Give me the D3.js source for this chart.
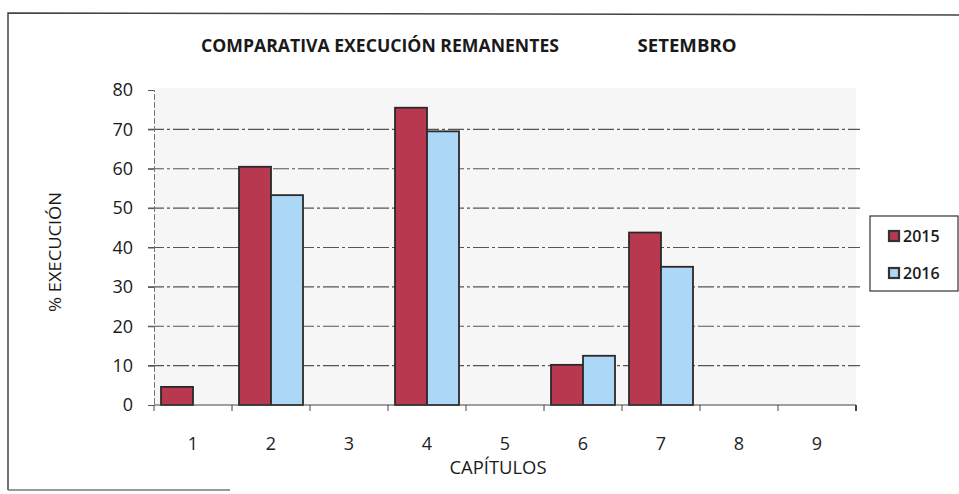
<!DOCTYPE html>
<html>
<head>
<meta charset="utf-8">
<script src="https://cdn.jsdelivr.net/npm/d3@7"></script>
<style>
  body { margin: 0; background: #fff; }
  svg { display: block; font-family: "Open Sans", sans-serif; }
</style>
</head>
<body>
<svg id="chart" width="959" height="494"></svg>
<script>
// data
const capitulos = ['1', '2', '3', '4', '5', '6', '7', '8', '9'];
const series = ['2015', '2016'];
const values2015 = [4.6, 60.5, 0, 75.5, 0, 10.2, 43.8, 0, 0];
const values2016 = [0, 53.3, 0, 69.5, 0, 12.5, 35.1, 0, 0];
const yTicks = [0, 10, 20, 30, 40, 50, 60, 70, 80];

const colors = { '2015': '#b8384f', '2016': '#acd7f6' };

const svg = d3.select('#chart');
const m = { left: 154, right: 856, top: 90, bottom: 405 };

const x0 = d3.scaleBand().domain(capitulos).range([m.left, m.right]);
const x1 = d3.scaleBand().domain(series).range([7, x0.bandwidth() - 7]);
const y = d3.scaleLinear().domain([0, 80]).range([m.bottom, m.top]);

// outer frame (scanned, only partly visible)
svg.append('path')
  .attr('d', 'M8,490 L8,13 L959,15')
  .attr('fill', 'none').attr('stroke', '#444').attr('stroke-width', 1.5);
svg.append('line')
  .attr('x1', 8).attr('x2', 230).attr('y1', 490).attr('y2', 490)
  .attr('stroke', '#777').attr('stroke-width', 1.5);

// plot area
svg.append('rect')
  .attr('x', m.left).attr('y', m.top - 2)
  .attr('width', m.right - m.left).attr('height', m.bottom - m.top + 2)
  .attr('fill', '#f6f6f6');

// grid lines
svg.append('g')
  .selectAll('line')
  .data(yTicks.filter(d => d > 0 && d < 80))
  .join('line')
  .attr('x1', m.left - 6).attr('x2', m.right + 4)
  .attr('y1', d => y(d)).attr('y2', d => y(d))
  .attr('stroke', '#555').attr('stroke-width', 1.2)
  .attr('stroke-dasharray', '16,3,3,3');

// y axis
const yAxis = svg.append('g')
  .attr('transform', `translate(${m.left},0)`)
  .call(d3.axisLeft(y).tickValues(yTicks).tickSize(6).tickPadding(15));
yAxis.select('.domain').attr('stroke', '#777').attr('stroke-dasharray', '6,2');
yAxis.selectAll('.tick line').attr('stroke', '#555');
yAxis.selectAll('text')
  .attr('font-size', 18).attr('fill', '#1a1a1a').attr('font-family', 'Open Sans, sans-serif');

// bars
const groups = svg.append('g')
  .selectAll('g')
  .data(capitulos)
  .join('g')
  .attr('transform', d => `translate(${x0(d)},0)`);

groups.selectAll('rect')
  .data((d, i) => [
    { key: '2015', value: values2015[i] },
    { key: '2016', value: values2016[i] }
  ].filter(e => e.value > 0))
  .join('rect')
  .attr('x', d => x1(d.key))
  .attr('y', d => y(d.value))
  .attr('width', x1.bandwidth())
  .attr('height', d => y(0) - y(d.value))
  .attr('fill', d => colors[d.key])
  .attr('stroke', '#2a2a2a').attr('stroke-width', 1.8);

// x axis
const xTicks = capitulos.map(c => x0(c)).concat([m.right]);
svg.append('line')
  .attr('x1', m.left).attr('x2', m.right)
  .attr('y1', m.bottom).attr('y2', m.bottom)
  .attr('stroke', '#444').attr('stroke-width', 1.2);
svg.append('g')
  .selectAll('line')
  .data(xTicks)
  .join('line')
  .attr('x1', d => d).attr('x2', d => d)
  .attr('y1', m.bottom).attr('y2', m.bottom + 6)
  .attr('stroke', '#444').attr('stroke-width', (d, i) => i === xTicks.length - 1 ? 2 : 1);

svg.append('g')
  .selectAll('text')
  .data(capitulos)
  .join('text')
  .attr('x', d => x0(d) + x0.bandwidth() / 2)
  .attr('y', 450)
  .attr('text-anchor', 'middle')
  .attr('font-size', 18).attr('fill', '#222')
  .text(d => d);

// titles
svg.append('text')
  .attr('x', 380).attr('y', 52)
  .attr('text-anchor', 'middle')
  .attr('font-size', 18).attr('font-weight', 'bold').attr('fill', '#1a1a1a')
  .attr('textLength', 358).attr('lengthAdjust', 'spacingAndGlyphs')
  .text('COMPARATIVA EXECUCIÓN REMANENTES');
svg.append('text')
  .attr('x', 687).attr('y', 52)
  .attr('text-anchor', 'middle')
  .attr('font-size', 18).attr('font-weight', 'bold').attr('fill', '#1a1a1a')
  .attr('textLength', 99).attr('lengthAdjust', 'spacingAndGlyphs')
  .text('SETEMBRO');

svg.append('text')
  .attr('x', 498).attr('y', 474)
  .attr('text-anchor', 'middle')
  .attr('font-size', 18).attr('fill', '#1a1a1a')
  .attr('textLength', 97).attr('lengthAdjust', 'spacingAndGlyphs')
  .text('CAPÍTULOS');

svg.append('text')
  .attr('transform', 'translate(61,252) rotate(-90)')
  .attr('text-anchor', 'middle')
  .attr('font-size', 17).attr('fill', '#1a1a1a')
  .attr('textLength', 120).attr('lengthAdjust', 'spacingAndGlyphs')
  .text('% EXECUCIÓN');

// legend
const legend = svg.append('g').attr('transform', 'translate(870,216)');
legend.append('rect')
  .attr('width', 88).attr('height', 75)
  .attr('fill', '#fff').attr('stroke', '#333').attr('stroke-width', 1.2);
const items = legend.selectAll('g.item')
  .data(series)
  .join('g')
  .attr('class', 'item')
  .attr('transform', (d, i) => `translate(19,${20 + i * 37})`);
items.append('rect')
  .attr('x', 0).attr('y', -5)
  .attr('width', 10).attr('height', 10)
  .attr('fill', d => colors[d]).attr('stroke', '#333').attr('stroke-width', 2.2);
items.append('text')
  .attr('x', 14).attr('y', 6)
  .attr('font-size', 16).attr('font-weight', 600).attr('fill', '#1a1a1a')
  .text(d => d);
</script>
</body>
</html>
